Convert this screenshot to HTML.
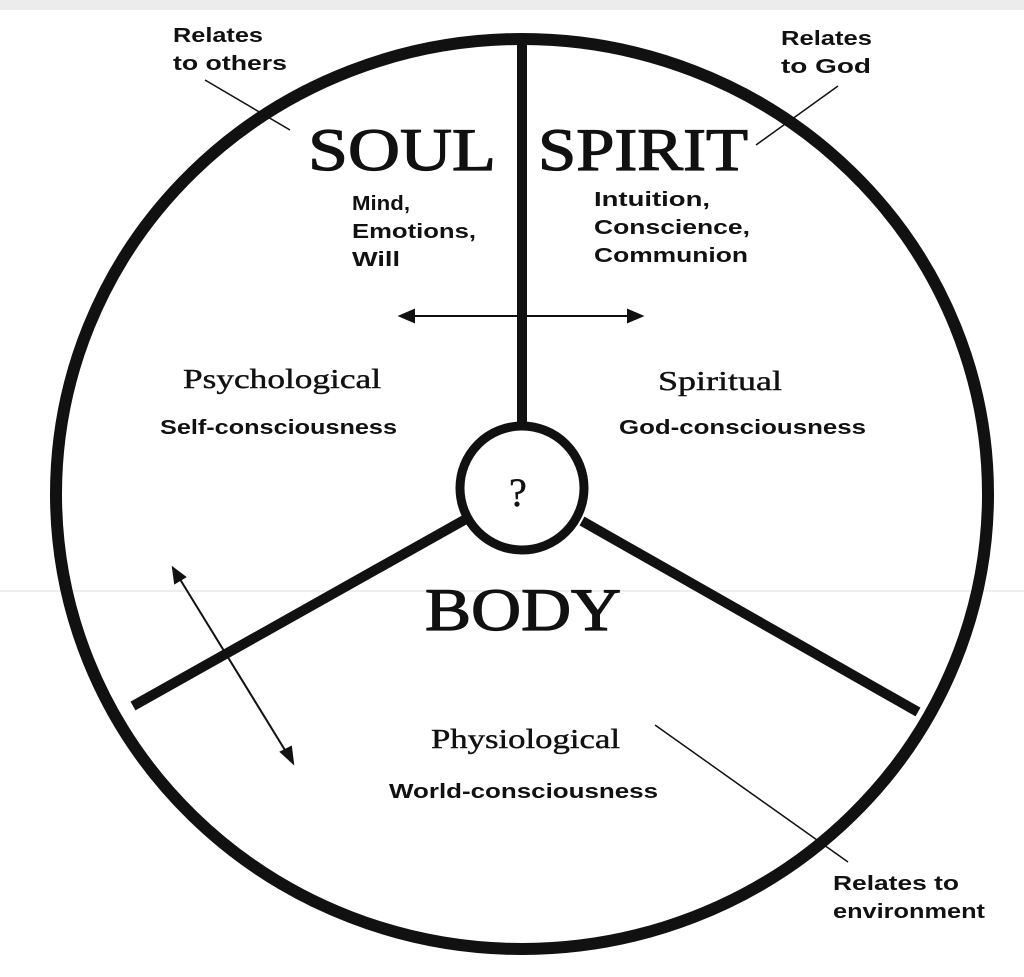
<!DOCTYPE html>
<html><head><style>
body{margin:0;width:1024px;height:977px;background:#fff;overflow:hidden;position:relative;font-family:"Liberation Sans",sans-serif;}
svg{position:absolute;left:0;top:0}
</style></head><body>
<svg width="1024" height="977" viewBox="0 0 1024 977">
<rect x="0" y="0" width="1024" height="10" fill="#ececec"/>
<line x1="0" y1="591" x2="1024" y2="591" stroke="#ddd" stroke-width="1"/>
<ellipse cx="522" cy="494" rx="466" ry="455" fill="none" stroke="#111" stroke-width="12"/>
<circle cx="522" cy="488" r="62" fill="none" stroke="#111" stroke-width="9"/>
<line x1="522" y1="45" x2="522" y2="426" stroke="#111" stroke-width="10"/>
<line x1="466" y1="519" x2="133" y2="706" stroke="#111" stroke-width="10"/>
<line x1="582" y1="521" x2="918" y2="712" stroke="#111" stroke-width="10"/>
<g stroke="#111" stroke-width="2" fill="#111">
<line x1="408" y1="316" x2="634" y2="316"/>
<polygon points="400,316 414,310 414,322"/>
<polygon points="642,316 628,310 628,322"/>
<line x1="178" y1="576" x2="288" y2="755"/>
<polygon points="173,568 175,583 185,577"/>
<polygon points="293,763 281,752 291,747"/>
<line x1="205" y1="80" x2="290" y2="130" stroke-width="1.5"/>
<line x1="838" y1="86" x2="756" y2="145" stroke-width="1.5"/>
<line x1="655" y1="725" x2="848" y2="862" stroke-width="1.5"/>
</g>
<g font-family="Liberation Serif, serif" fill="#111" stroke="#111" stroke-width="1.2">
<text x="308" y="170" font-size="60" textLength="188" lengthAdjust="spacingAndGlyphs">SOUL</text>
<text x="538" y="170" font-size="60" textLength="210" lengthAdjust="spacingAndGlyphs">SPIRIT</text>
<text x="425" y="630" font-size="60" textLength="196" lengthAdjust="spacingAndGlyphs">BODY</text>
<text x="509" y="506" font-size="40" stroke-width="0.5">?</text>
<text x="183" y="388" font-size="27" stroke-width="0.4" textLength="198" lengthAdjust="spacingAndGlyphs">Psychological</text>
<text x="658" y="390" font-size="27" stroke-width="0.4" textLength="124" lengthAdjust="spacingAndGlyphs">Spiritual</text>
<text x="431" y="748" font-size="27" stroke-width="0.4" textLength="189" lengthAdjust="spacingAndGlyphs">Physiological</text>
</g>
<g font-family="Liberation Sans, sans-serif" fill="#111" font-size="20" font-weight="bold" lengthAdjust="spacingAndGlyphs">
<text x="160" y="434" textLength="237" lengthAdjust="spacingAndGlyphs">Self-consciousness</text>
<text x="619" y="434" textLength="247" lengthAdjust="spacingAndGlyphs">God-consciousness</text>
<text x="389" y="798" textLength="269" lengthAdjust="spacingAndGlyphs">World-consciousness</text>
<text x="352" y="210" textLength="58" lengthAdjust="spacingAndGlyphs">Mind,</text>
<text x="352" y="238" textLength="124" lengthAdjust="spacingAndGlyphs">Emotions,</text>
<text x="352" y="266" textLength="48" lengthAdjust="spacingAndGlyphs">Will</text>
<text x="594" y="206" textLength="116" lengthAdjust="spacingAndGlyphs">Intuition,</text>
<text x="594" y="234" textLength="156" lengthAdjust="spacingAndGlyphs">Conscience,</text>
<text x="594" y="262" textLength="154" lengthAdjust="spacingAndGlyphs">Communion</text>
<text x="173" y="42" textLength="90" lengthAdjust="spacingAndGlyphs">Relates</text>
<text x="173" y="70" textLength="114" lengthAdjust="spacingAndGlyphs">to others</text>
<text x="781" y="45" textLength="91" lengthAdjust="spacingAndGlyphs">Relates</text>
<text x="781" y="73" textLength="90" lengthAdjust="spacingAndGlyphs">to God</text>
<text x="833" y="890" textLength="126" lengthAdjust="spacingAndGlyphs">Relates to</text>
<text x="833" y="918" textLength="152" lengthAdjust="spacingAndGlyphs">environment</text>
</g>
</svg>
</body></html>
